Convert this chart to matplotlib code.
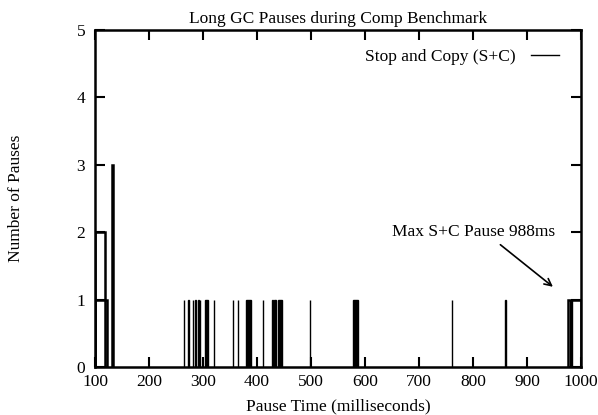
import matplotlib
matplotlib.use("Agg")
import matplotlib.pyplot as plt
from matplotlib.lines import Line2D

plt.rcParams['font.family'] = ['Liberation Serif', 'DejaVu Serif']

# Pause histogram data (ms): left edge, width, count
box_left   = [100, 100, 132.3]
box_width  = [18, 22, 0.6]
box_count  = [2, 1, 3]

# single pauses (count 1, thin lines)
single_ms = [264, 273, 281, 286, 291, 294, 320, 355, 364, 411, 498, 761, 860]
# dense clusters drawn as solid blocks (count 1)
block_start = [303, 380, 427, 431, 438, 577]
block_end   = [310, 389, 429.5, 436, 447, 587]
# last (max) pause box
max_left, max_right, max_inner = 975, 1000, [979, 982]

title = "Long GC Pauses during Comp Benchmark"
xlabel = "Pause Time (milliseconds)"
ylabel = "Number of Pauses"
legend_label = "Stop and Copy (S+C)"
annot = "Max S+C Pause 988ms"
xticks = [100, 200, 300, 400, 500, 600, 700, 800, 900, 1000]
yticks = [0, 1, 2, 3, 4, 5]

fig = plt.figure(figsize=(5.98, 4.15), dpi=100)
ax = fig.add_axes([95/598, 1-367/415, (581-95)/598, (367-30)/415])

fs = 12.5
for l, w, c in zip(box_left, box_width, box_count):
    ax.bar(l, c, width=w, align='edge', fill=False, edgecolor='black', linewidth=1.8)
for s in single_ms:
    ax.bar(s, 1, width=0.8, align='edge', fill=False, edgecolor='black', linewidth=1.0)
for a, b in zip(block_start, block_end):
    ax.bar(a, 1, width=b - a, align='edge', color='black', edgecolor='black', linewidth=1.0)
ax.bar(max_left, 1, width=max_right - max_left, align='edge', fill=False,
       edgecolor='black', linewidth=1.8)
for m in max_inner:
    ax.bar(m, 1, width=0.8, align='edge', fill=False, edgecolor='black', linewidth=1.0)

ax.set_xlim(100, 1000)
ax.set_ylim(0, 5)
ax.set_xticks(xticks)
ax.set_yticks(yticks)
ax.tick_params(direction='in', length=7, width=1.5, top=True, right=True,
               labelsize=fs)
ax.tick_params(axis='y', pad=7)
ax.tick_params(axis='x', pad=5)
for sp in ax.spines.values():
    sp.set_linewidth(1.8)

ax.set_title(title, fontsize=fs, pad=5)
ax.set_xlabel(xlabel, fontsize=fs, labelpad=6)
ax.set_ylabel(ylabel, fontsize=fs, labelpad=38)

handle = Line2D([], [], color='black', linewidth=1.0)
leg = ax.legend([handle], [legend_label], loc='upper right', frameon=False,
                markerfirst=False, fontsize=fs, handlelength=1.6,
                handletextpad=0.9,
                bbox_to_anchor=(0.98, 0.98), borderaxespad=0.3)

ax.annotate(annot, xy=(948, 1.19), xytext=(952, 2.0), fontsize=fs,
            ha='right', va='center',
            arrowprops=dict(arrowstyle='->', color='black', lw=1.2,
                            shrinkA=2, shrinkB=0,
                            relpos=(0.63, 0)))

fig.savefig("out.png", dpi=100)
